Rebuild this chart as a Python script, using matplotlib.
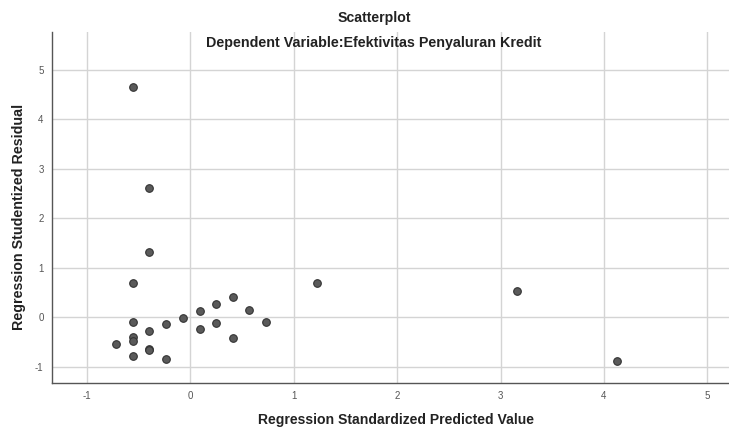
import matplotlib
matplotlib.use('Agg')
import matplotlib.pyplot as plt
import numpy as np

plt.rcParams['font.family'] = ['Liberation Sans', 'DejaVu Sans']
plt.rcParams['axes.unicode_minus'] = False

# Values (standardized predicted vs studentized residual)
pred = [-0.56, -0.40, -0.40, -0.56, 1.22, 0.41, 0.25, 0.09, 0.57, -0.07,
        -0.56, 0.73, 0.25, -0.24, 0.09, -0.40, 0.41, -0.56, -0.56, -0.72,
        -0.40, -0.40, -0.56, -0.24, 3.16, 4.13]
resid = [4.66, 2.62, 1.32, 0.69, 0.70, 0.40, 0.26, 0.13, 0.15, -0.01,
         -0.10, -0.09, -0.11, -0.14, -0.24, -0.27, -0.41, -0.40, -0.49, -0.55,
         -0.64, -0.66, -0.78, -0.85, 0.53, -0.88]

x_ticks = [-1, 0, 1, 2, 3, 4, 5]
y_ticks = [-1, 0, 1, 2, 3, 4, 5]

fig = plt.figure(figsize=(7.29, 4.28), dpi=100)
ax = fig.add_axes([0.0713, 0.105, 0.9287, 0.82])

ax.scatter(pred, resid, s=30, color='#5a5a5a', edgecolors='#333333',
           linewidths=0.8, zorder=3)

ax.set_xlim(-1.34, 5.21)
ax.set_ylim(-1.33, 5.76)
ax.set_xticks(x_ticks)
ax.set_yticks(y_ticks)
ax.grid(True, color='#d4d4d4', linewidth=1.0)
ax.set_axisbelow(True)
ax.tick_params(length=0, labelsize=7, colors='#555555', pad=6)

for s in ['top', 'right']:
    ax.spines[s].set_visible(False)
for s in ['left', 'bottom']:
    ax.spines[s].set_color('#555555')
    ax.spines[s].set_linewidth(1.0)

fig.text(0.513, 0.958, 'Scatterplot', ha='center', va='center',
         fontsize=10.2, fontweight='bold', color='#222222')
fig.text(0.512, 0.899, 'Dependent Variable:Efektivitas Penyaluran Kredit',
         ha='center', va='center', fontsize=10.3, fontweight='bold', color='#222222')
fig.text(0.543, 0.018, 'Regression Standardized Predicted Value', ha='center',
         va='center', fontsize=10.1, fontweight='bold', color='#222222')
fig.text(0.026, 0.494, 'Regression Studentized Residual', ha='center',
         va='center', rotation=90, fontsize=10.3, fontweight='bold', color='#222222')

fig.savefig('out.png', dpi=100)
